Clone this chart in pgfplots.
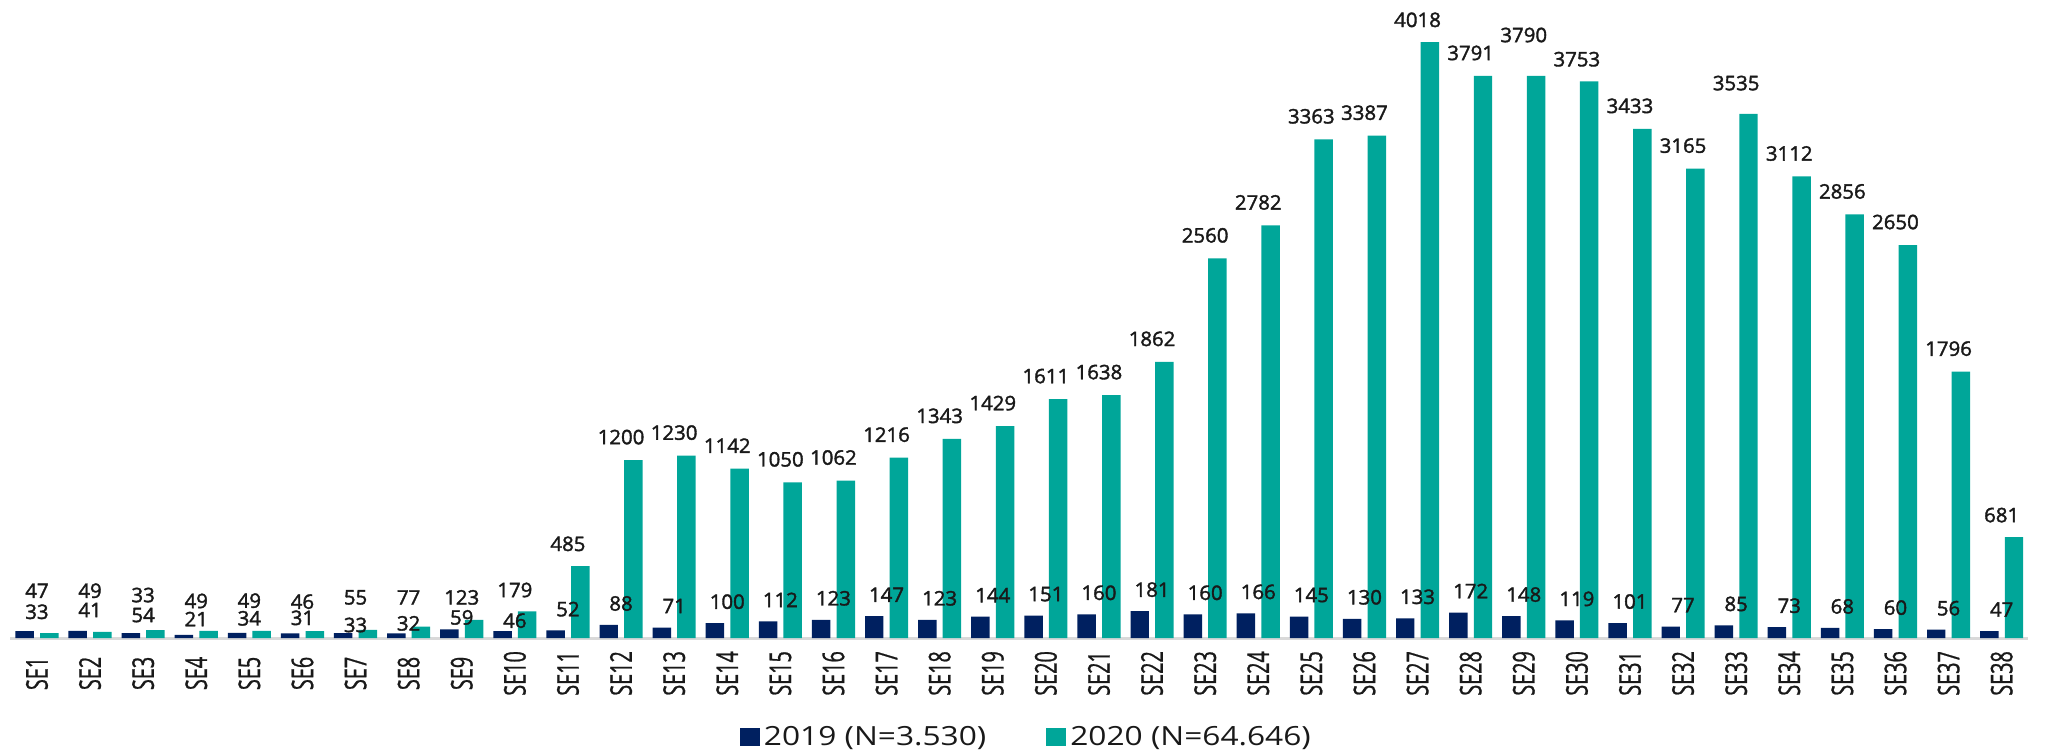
\documentclass[border=0pt]{standalone}
\usepackage{fontspec}
\setmainfont{Open Sans}
\usepackage{pgfplots}
\pgfplotsset{compat=1.18}
\usepackage{pgfplotstable}

\newfontfamily\lblfont{Open Sans}[FakeBold=1.8, FakeStretch=1.02]
\newfontfamily\tickfont{Open Sans}[FakeBold=0.8, FakeStretch=0.66]
\newfontfamily\legfont{Open Sans}[FakeStretch=1.2]

\definecolor{navy}{RGB}{0,32,96}
\definecolor{teal20}{RGB}{0,166,153}
\definecolor{baseln}{RGB}{217,217,217}

% x, 2019 value, 2019 label height, 2020 value, 2020 label height
\pgfplotstableread{
x v19 l19 v20 l20
1 47 319 33 177
2 49 319 41 189
3 33 290 54 155
4 21 128 49 250
5 34 133 49 252
6 31 136 46 245
7 33 88 55 274
8 32 99 77 274
9 59 139 123 274
10 46 117 179 324
11 52 195 485 635
12 88 233 1200 1355
13 71 216 1230 1385
14 100 245 1142 1297
15 112 257 1050 1205
16 123 268 1062 1217
17 147 292 1216 1371
18 123 268 1343 1498
19 144 289 1429 1584
20 151 296 1611 1766
21 160 305 1638 1793
22 181 326 1862 2017
23 160 305 2560 2715
24 166 311 2782 2937
25 145 290 3363 3518
26 130 275 3387 3542
27 133 278 4018 4168
28 172 317 3791 3945
29 148 293 3790 4066
30 119 264 3753 3903
31 101 246 3433 3588
32 77 222 3165 3320
33 85 230 3535 3742
34 73 218 3112 3267
35 68 213 2856 3011
36 60 205 2650 2805
37 56 201 1796 1951
38 47 192 681 829
}\data

\pgfplotsset{
  lbl/.style={ybar, bar width=0.348, draw=none, fill=none, forget plot,
    nodes near coords, point meta=explicit symbolic,
    every node near coord/.append style={anchor=center, inner sep=0pt,
      font=\lblfont\fontsize{10}{11}\selectfont, text=black!90}},
}

\begin{document}
\begin{tikzpicture}
\begin{axis}[
    scale only axis,
    width=1008.9pt,
    height=319pt,
    xmin=0.5, xmax=38.5,
    ymin=0, ymax=4302,
    enlargelimits=false,
    clip=false,
    axis x line*=bottom,
    hide y axis,
    x axis line style={-, draw=baseln, line width=1.5pt},
    xtick={1,...,38},
    xticklabels={SE1,SE2,SE3,SE4,SE5,SE6,SE7,SE8,SE9,SE10,
      SE11,SE12,SE13,SE14,SE15,SE16,SE17,SE18,SE19,SE20,
      SE21,SE22,SE23,SE24,SE25,SE26,SE27,SE28,SE29,SE30,
      SE31,SE32,SE33,SE34,SE35,SE36,SE37,SE38},
    major tick length=0pt,
    xtick style={draw=none},
    xticklabel style={rotate=90, anchor=east, inner sep=0pt,
      text width=35pt, align=center, text=black!90,
      font=\tickfont\fontsize{15}{17}\selectfont},
    legend style={at={(0.504,-0.155)}, anchor=center, draw=none,
      fill=none, legend columns=2, text=black!90,
      font=\legfont\fontsize{13.2}{15}\selectfont,
      /tikz/every even column/.append style={column sep=28pt}},
]
\addplot[ybar, bar width=0.348, bar shift=-0.232, fill=navy, draw=none,
  legend image code/.code={\fill[navy] (0pt,-4.5pt) rectangle (10pt,4.5pt);}]
  table[x=x, y=v19] {\data};
\addlegendentry{2019 (N=3.530)}
\addplot[ybar, bar width=0.348, bar shift=0.232, fill=teal20, draw=none,
  legend image code/.code={\fill[teal20] (0pt,-4.5pt) rectangle (10pt,4.5pt);}]
  table[x=x, y=v20] {\data};
\addlegendentry{2020 (N=64.646)}

\addplot[lbl, bar shift=-0.232] table[x=x, y=l19, meta=v19] {\data};
\addplot[lbl, bar shift=0.232] table[x=x, y=l20, meta=v20] {\data};

\coordinate (bl) at (rel axis cs:0,0);
\coordinate (tr) at (rel axis cs:1,1);
\end{axis}
\pgfresetboundingbox
\path ([shift={(-5.2pt,-56.5pt)}]bl) rectangle ([shift={(8.9pt,0pt)}]tr);
\end{tikzpicture}
\end{document}
